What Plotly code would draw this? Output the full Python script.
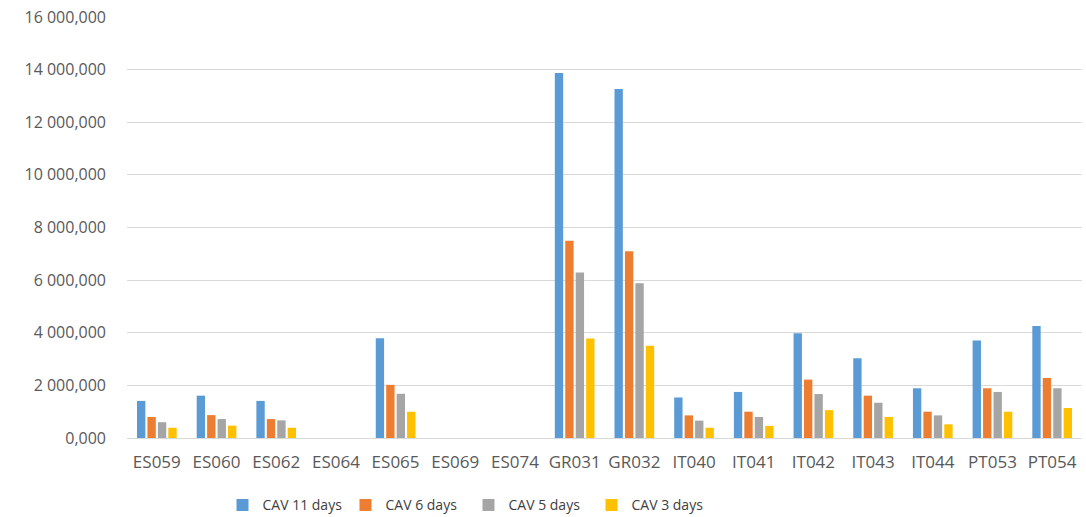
import plotly.graph_objects as go

# Sites on the category axis
sites = ["ES059", "ES060", "ES062", "ES064", "ES065", "ES069", "ES074", "GR031",
         "GR032", "IT040", "IT041", "IT042", "IT043", "IT044", "PT053", "PT054"]

# Values in thousands (axis shows them as "16 000,000")
cav_11 = [1410, 1610, 1410, 0, 3790, 0, 0, 13870, 13260, 1540, 1750, 3980, 3030, 1890, 3710, 4260]
cav_6 = [800, 870, 720, 0, 2020, 0, 0, 7500, 7100, 860, 1000, 2220, 1610, 1000, 1890, 2280]
cav_5 = [600, 720, 670, 0, 1680, 0, 0, 6290, 5880, 660, 800, 1670, 1340, 860, 1750, 1890]
cav_3 = [390, 470, 390, 0, 1000, 0, 0, 3780, 3510, 390, 460, 1060, 800, 520, 1000, 1140]

series = [
    ("CAV 11 days", cav_11, "#5B9BD5"),
    ("CAV 6 days", cav_6, "#ED7D31"),
    ("CAV 5 days", cav_5, "#A5A5A5"),
    ("CAV 3 days", cav_3, "#FFC000"),
]

fig = go.Figure()
for name, vals, color in series:
    fig.add_trace(go.Bar(x=sites, y=vals, name=name, marker_color=color,
                         marker_line_width=0))

fig.update_layout(
    width=1086, height=517,
    margin=dict(l=127, r=4, t=17, b=79, autoexpand=False),
    paper_bgcolor="white", plot_bgcolor="white",
    barmode="group", bargap=0.3, bargroupgap=0.2,
    separators=", ",
    font=dict(family="Open Sans", size=15, color="#595959"),
    legend=dict(orientation="h", x=0.10, xanchor="left", y=-0.16, yanchor="middle",
                font=dict(size=14, color="#404040"),
                entrywidth=78, entrywidthmode="pixels", itemwidth=30),
    xaxis=dict(showgrid=False, showline=False, ticks="", ticklabelstandoff=12,
               automargin=False, tickfont=dict(size=17, color="#595959")),
    yaxis=dict(range=[0, 16000], tickvals=list(range(0, 16001, 2000)),
               tickformat=",.3f", showgrid=True, gridcolor="#D9D9D9", gridwidth=1,
               zeroline=True, zerolinecolor="#D9D9D9", zerolinewidth=1,
               showline=False, ticks="", ticklabelstandoff=20, automargin=False,
               tickfont=dict(size=16, color="#595959")),
)

fig.write_html("out.html")
